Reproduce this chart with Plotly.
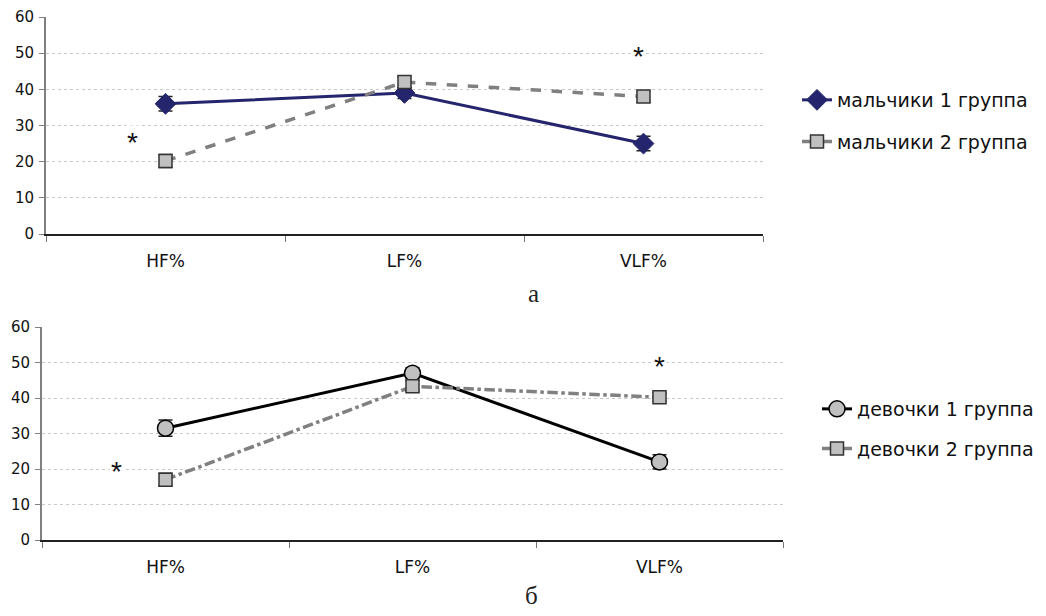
import plotly.graph_objects as go

categories = ["HF%", "LF%", "VLF%"]
boys1 = [36, 39, 25]
boys1_err = [2, 1.5, 2]
boys2 = [20.2, 42, 38]
boys2_err = [1.8, 1.5, 1.5]
girls1 = [31.5, 47, 22]
girls1_err = [2.3, 1.5, 2]
girls2 = [17, 43.3, 40.2]
girls2_err = [1.8, 1.5, 1.2]
y_ticks = [0, 10, 20, 30, 40, 50, 60]
stars_top = [(-0.14, 25.4), (1.98, 49.0)]
stars_bottom = [(-0.2, 19.3), (2.0, 49.0)]

# page body has an 8px margin; figure drawn inside it
OFF = 8
W, H = 1030, 600
def fx(p):
    return (p - OFF) / W
def fy(p):
    return 1 - (p - OFF) / H
def px_x(a, b):
    return [fx(a), fx(b)]
def px_y(top, bottom):
    return [fy(bottom), fy(top)]

fig = go.Figure()

err_style = dict(type="data", symmetric=True, color="#222222", thickness=1.5, width=7)

fig.add_trace(go.Scatter(
    x=categories, y=boys1, name="мальчики 1 группа", mode="lines+markers",
    line=dict(color="#25256e", width=3),
    marker=dict(symbol="diamond", size=16, color="#25256e", line=dict(color="#25256e", width=1)),
    error_y=dict(array=boys1_err, **err_style),
    xaxis="x", yaxis="y", legend="legend", legendgroup="a1"))
fig.add_trace(go.Scatter(
    x=categories, y=boys2, name="мальчики 2 группа", mode="lines+markers",
    line=dict(color="#808080", width=3.5, dash="dash"),
    marker=dict(symbol="square", size=13, color="#c0c0c0", line=dict(color="#333333", width=1.5)),
    error_y=dict(array=boys2_err, **err_style),
    xaxis="x", yaxis="y", legend="legend", legendgroup="a2"))
fig.add_trace(go.Scatter(
    x=categories, y=girls1, name="девочки 1 группа", mode="lines+markers",
    line=dict(color="#000000", width=3),
    marker=dict(symbol="circle", size=16, color="#c0c0c0", line=dict(color="#000000", width=1.5)),
    error_y=dict(array=girls1_err, **err_style),
    xaxis="x2", yaxis="y2", legend="legend2", legendgroup="b1"))
fig.add_trace(go.Scatter(
    x=categories, y=girls2, name="девочки 2 группа", mode="lines+markers",
    line=dict(color="#808080", width=3.5, dash="dashdot"),
    marker=dict(symbol="square", size=13, color="#c0c0c0", line=dict(color="#333333", width=1.5)),
    error_y=dict(array=girls2_err, **err_style),
    xaxis="x2", yaxis="y2", legend="legend2", legendgroup="b2"))

FONT = "DejaVu Sans, Liberation Sans, Arial, sans-serif"
xtick_font = dict(family=FONT, size=17, color="#111111")
ytick_font = dict(family=FONT, size=15, color="#111111")
xax = dict(type="category", range=[-0.5, 2.5], tickson="boundaries", ticks="outside",
           ticklen=6, tickcolor="#777777", showline=True, linecolor="#222222", linewidth=1.5,
           showgrid=False, tickfont=xtick_font, fixedrange=True, zeroline=False,
           automargin=False, ticklabelstandoff=11)
yax = dict(range=[0, 60], tickvals=y_ticks, ticks="outside", ticklen=5, tickcolor="#808080",
           showline=True, linecolor="#808080", linewidth=2, showgrid=True,
           gridcolor="#c8c8c8", griddash="dot", gridwidth=1, tickfont=ytick_font,
           zeroline=False, ticklabelstandoff=2, automargin=False)

legend_font = dict(family=FONT, size=19, color="#111111")

fig.update_layout(
    width=W, height=H, margin=dict(l=0, r=0, t=0, b=0, autoexpand=False),
    paper_bgcolor="white", plot_bgcolor="white",
    xaxis=dict(domain=px_x(46, 763), anchor="y", **xax),
    yaxis=dict(domain=px_y(17, 234), anchor="x", **yax),
    xaxis2=dict(domain=px_x(42, 783), anchor="y2", **xax),
    yaxis2=dict(domain=px_y(327, 540), anchor="x2", **yax),
    legend=dict(x=fx(797), y=fy(81), xanchor="left", yanchor="top", font=legend_font,
                traceorder="grouped", tracegroupgap=14, bgcolor="rgba(0,0,0,0)"),
    legend2=dict(x=fx(817), y=fy(390), xanchor="left", yanchor="top", font=legend_font,
                 traceorder="grouped", tracegroupgap=12, bgcolor="rgba(0,0,0,0)"),
    showlegend=True,
)

annotations = []
star_font = dict(family="Liberation Sans, Arial", size=28, color="#111111")
for (sx, sy) in stars_top:
    annotations.append(dict(x=sx, y=sy, xref="x", yref="y", text="*", showarrow=False,
                            font=star_font, bgcolor="white"))
for (sx, sy) in stars_bottom:
    annotations.append(dict(x=sx, y=sy, xref="x2", yref="y2", text="*", showarrow=False,
                            font=star_font, bgcolor="white"))
cap_font = dict(family="Liberation Serif, Times New Roman, serif", size=25, color="#222222")
annotations.append(dict(x=fx(533), y=fy(293), xref="paper", yref="paper", text="а",
                        xanchor="center", yanchor="middle", showarrow=False, font=cap_font))
annotations.append(dict(x=fx(531), y=fy(595), xref="paper", yref="paper", text="б",
                        xanchor="center", yanchor="middle", showarrow=False, font=cap_font))
fig.update_layout(annotations=annotations)

fig.write_html("out.html")
